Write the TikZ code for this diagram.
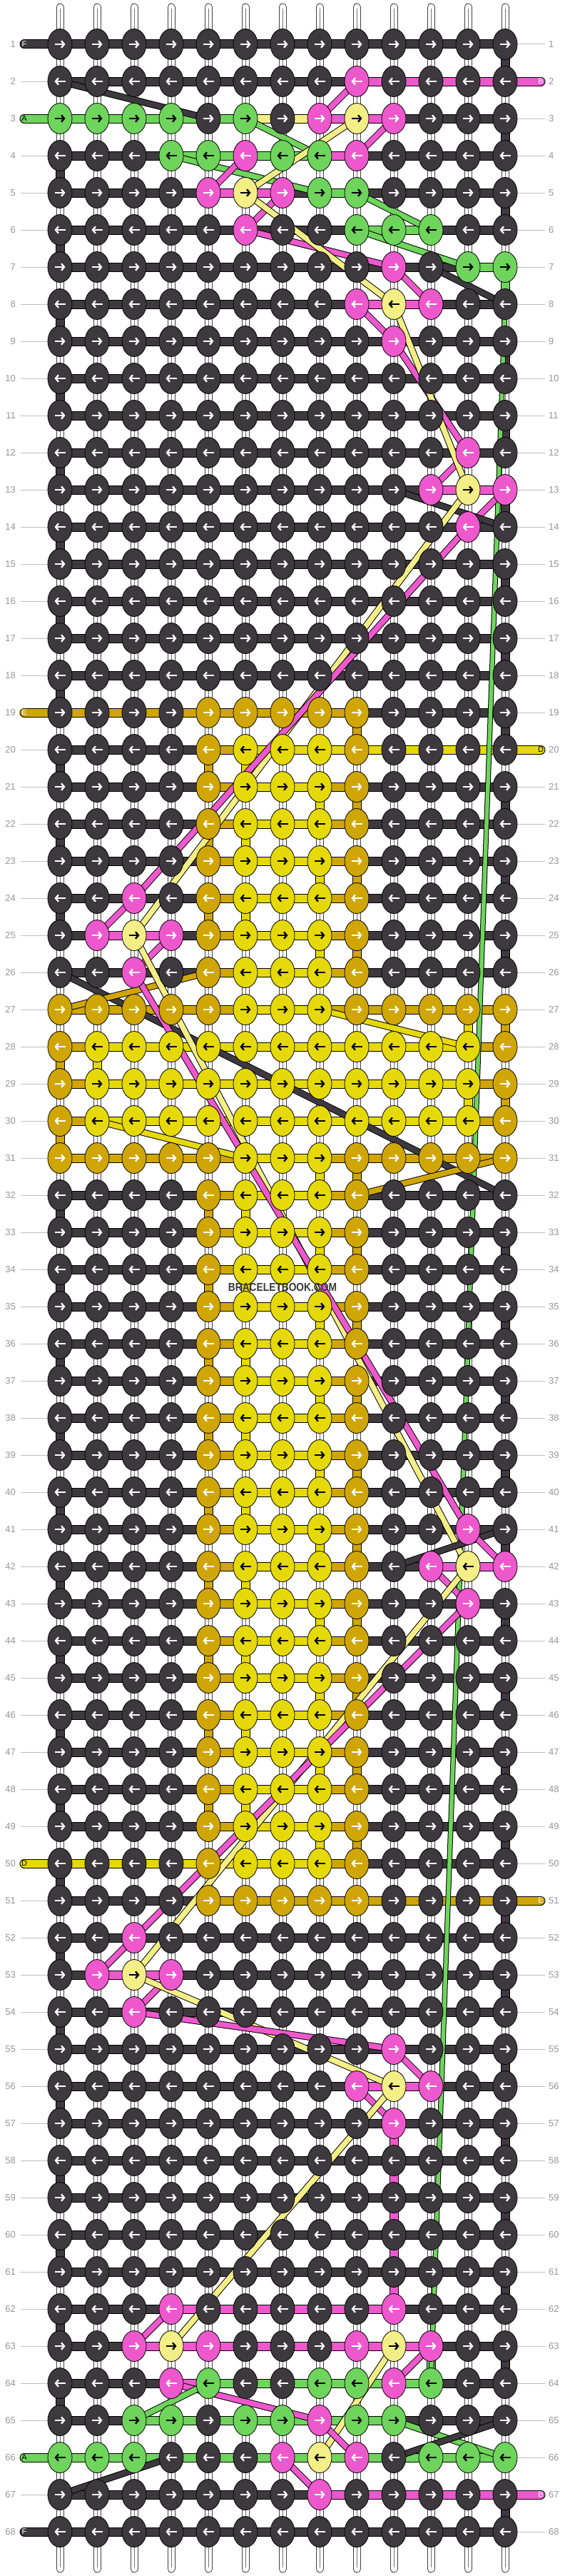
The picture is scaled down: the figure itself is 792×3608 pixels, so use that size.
\documentclass[tikz,border=0pt]{standalone}
\usepackage{fontspec}
\setmainfont{Liberation Sans}
\usetikzlibrary{shapes.geometric,arrows.meta}

\definecolor{cK}{RGB}{62,57,62}
\definecolor{cG}{RGB}{110,212,92}
\definecolor{cP}{RGB}{238,88,205}
\definecolor{cY}{RGB}{244,238,134}
\definecolor{cL}{RGB}{230,217,10}
\definecolor{cO}{RGB}{207,166,6}
\colorlet{aK}{white}\colorlet{aG}{black}\colorlet{aP}{white}
\colorlet{aY}{black}\colorlet{aL}{black}\colorlet{aO}{white}
\definecolor{labelgray}{RGB}{150,150,150}
\definecolor{guidegray}{RGB}{190,190,190}

\tikzset{
  knot/.style={ellipse, draw=black, line width=0.8pt, minimum width=34pt, minimum height=43pt, inner sep=0pt},
  knotarrow/.style={line width=2.3pt, -{Straight Barb[length=4pt,width=9.5pt]}},
  strandedge/.style={line width=13pt, draw=black},
  strandfill/.style={line width=11pt},
  floatedge/.style={line width=9.5pt, draw=black},
  floatfill/.style={line width=7.5pt},
  endedge/.style={line width=13pt, draw=black, line cap=round},
  endfill/.style={line width=11pt, line cap=round},
  guide/.style={draw=guidegray, line width=1pt},
  rownum/.style={text=labelgray, font=\fontsize{13}{13}\selectfont, inner sep=0pt},
  endtag/.style={font=\fontsize{11}{11}\selectfont, inner sep=0pt},
  watermark/.style={font=\bfseries\fontsize{16}{16}\selectfont, text=black!78, inner sep=0pt}
}

% walk through a string of colour letters
\makeatletter
\newcommand\eachletter[2]{%
  \def\el@do{#1}\def\el@idx{0}\edef\el@str{#2}%
  \expandafter\el@next\el@str\@nil}
\def\el@next#1{%
  \ifx#1\@nil\expandafter\@gobble\else\expandafter\@firstofone\fi
  {\pgfmathtruncatemacro\el@idx{\el@idx+1}%
   \expandafter\el@do\expandafter{\el@idx}{#1}\el@next}}
\makeatother

% one knot of row \r
\newcommand\putknot[2]{%
  \node[knot, fill=c#2] (k\r-#1) at (p\r-#1) {};
  \ifodd\r\relax
    \draw[knotarrow, a#2] ([xshift=-7.5pt]p\r-#1) -- ([xshift=7.5pt]p\r-#1);
  \else
    \draw[knotarrow, a#2] ([xshift=7.5pt]p\r-#1) -- ([xshift=-7.5pt]p\r-#1);
  \fi}

% one bar of row \r
\newcommand\putbar[2]{%
  \pgfmathtruncatemacro\nextcol{#1+1}%
  \draw[strandedge] (p\r-#1) -- (p\r-\nextcol);
  \draw[strandfill, c#2] (p\r-#1) -- (p\r-\nextcol);}

% a turn down to the next row
\newcommand\turnlink[3]{%
  \pgfmathtruncatemacro\rowbelow{#1+1}%
  \draw[strandedge] (p#1-#2) -- (p\rowbelow-#2);
  \draw[strandfill, c#3] (p#1-#2) -- (p\rowbelow-#2);}

\def\allK{KKKKKKKKKKKKK}
\def\allKb{KKKKKKKKKKKK}
\def\blk{KKKKOLLLOKKKK}
\def\blkb{KKKKOLLOKKKK}

% row / knots / bars
\def\rowdata{%
1/\allK/\allKb,
2/KKKKKKKKPKKKK/KKKKKKKKPPPP,
3/GGGGKGKPYPKKK/GGGGGYYPPKKK,
4/KKKGGPGGPKKKK/KKKGGGGPKKKK,
5/KKKKPYPGGKKKK/KKKKPPKGKKKK,
6/KKKKKPKKGGGKK/KKKKKKKKGGKK,
7/KKKKKKKKKPKGG/KKKKKKKKKKKG,
8/KKKKKKKKPYPKK/KKKKKKKKPPKK,
9/KKKKKKKKKPKKK/\allKb,
10/\allK/\allKb,
11/\allK/\allKb,
12/KKKKKKKKKKKPK/\allKb,
13/KKKKKKKKKKPYP/KKKKKKKKKKPP,
14/KKKKKKKKKKKPK/\allKb,
15/\allK/\allKb,
16/\allK/\allKb,
17/\allK/\allKb,
18/\allK/\allKb,
19/KKKKOOOOOKKKK/OOOOOOOOKKKK,
20/\blk/KKKKOLLLLLLL,
21/\blk/\blkb,
22/\blk/\blkb,
23/\blk/\blkb,
24/KKPKOLLLOKKKK/\blkb,
25/KPYPOLLLOKKKK/KPPKOLLOKKKK,
26/KKPKOLLLOKKKK/\blkb,
27/OOOOOLLLOOOOO/OOOOOLLOOOOO,
28/OLLLLLLLLLLLO/OLLLLLLLLLLO,
29/OLLLLLLLLLLLO/OLLLLLLLLLLO,
30/OLLLLLLLLLLLO/OLLLLLLLLLLO,
31/OOOOOLLLOOOOO/OOOOOLLOOOOO,
32/\blk/\blkb,
33/\blk/\blkb,
34/\blk/\blkb,
35/\blk/\blkb,
36/\blk/\blkb,
37/\blk/\blkb,
38/\blk/\blkb,
39/\blk/\blkb,
40/\blk/\blkb,
41/KKKKOLLLOKKPK/\blkb,
42/KKKKOLLLOKPYP/KKKKOLLOKKPP,
43/KKKKOLLLOKKPK/\blkb,
44/\blk/\blkb,
45/\blk/\blkb,
46/\blk/\blkb,
47/\blk/\blkb,
48/\blk/\blkb,
49/\blk/\blkb,
50/\blk/LLLLLLLOKKKK,
51/KKKKOOOOOKKKK/KKKKOOOOOOOO,
52/KKPKKKKKKKKKK/\allKb,
53/KPYPKKKKKKKKK/KPPKKKKKKKKK,
54/KKPKKKKKKKKKK/\allKb,
55/KKKKKKKKKPKKK/\allKb,
56/KKKKKKKKPYPKK/KKKKKKKKPPKK,
57/KKKKKKKKKPKKK/\allKb,
58/\allK/\allKb,
59/\allK/\allKb,
60/\allK/\allKb,
61/\allK/\allKb,
62/KKKPKKKKKPKKK/KKKPPPPPPKKK,
63/KKPYPKKKPYPKK/KKPPPPPPPPKK,
64/KKKPGKKGGPGKK/KKKPGGGGGGKK,
65/KKGGKGGPGGKKK/KKGGGGGGGKKK,
66/GGGKKKPYPKGGG/GGGGGGGGGGGG,
67/KKKKKKKPKKKKK/KKKKKKKPPPPP,
68/\allK/\allKb}

\begin{document}
\begin{tikzpicture}[x=1pt, y=-1pt]
    % Page
    \fill[white] (0,0) rectangle (792,3608);
    \useasboundingbox (0,0) rectangle (792,3608);

    % Knot positions
    \foreach \r in {1,...,68}
      \foreach \c in {1,...,13}
        \coordinate (p\r-\c) at ({84+52*(\c-1)},{62+52*(\r-1)});

    % Base strings
    \foreach \c in {1,...,13} {
      \draw[line width=11pt, black!75, line cap=round] ([yshift=52pt]p1-\c) -- ([yshift=-52pt]p68-\c);
      \draw[line width=9pt, white, line cap=round] ([yshift=52pt]p1-\c) -- ([yshift=-52pt]p68-\c);
      \draw[line width=0.6pt, black!55] ([yshift=50pt]p1-\c) -- ([yshift=-50pt]p68-\c);
    }

    % Row numbers and guides
    \foreach \r in {1,...,68} {
      \node[rownum, anchor=east] (ln\r) at ([xshift=-62pt]p\r-1) {\r};
      \node[rownum, anchor=west] (rn\r) at ([xshift=61pt]p\r-13) {\r};
      \draw[guide] ([xshift=-55pt]p\r-1) -- ([xshift=-17pt]p\r-1);
      \draw[guide] ([xshift=17pt]p\r-13) -- ([xshift=56pt]p\r-13);
    }

    % Bars
    \foreach \r/\kn/\br in \rowdata {\eachletter\putbar{\br}}

    % Turns at the edges
    \foreach \r in {1,3,...,25} {\turnlink{\r}{13}{K}}
    \foreach \r in {33,35,...,63} {\turnlink{\r}{13}{K}}
    \turnlink{67}{13}{K}
    \foreach \r in {4,6,...,24} {\turnlink{\r}{1}{K}}
    \foreach \r in {32,34,...,64} {\turnlink{\r}{1}{K}}
    \foreach \r/\c/\s in {7/13/G, 27/13/O, 27/12/L, 29/13/O, 29/12/L,
        28/1/O, 28/2/L, 30/1/O, 19/9/O, 63/11/G} {\turnlink{\r}{\c}{\s}}

    % Turns inside the block
    \foreach \r in {20,22,24} {\turnlink{\r}{5}{O}\turnlink{\r}{6}{L}}
    \foreach \r in {32,34,...,48} {\turnlink{\r}{5}{O}\turnlink{\r}{6}{L}}
    \foreach \r in {21,23,25} {\turnlink{\r}{8}{L}\turnlink{\r}{9}{O}}
    \foreach \r in {31,33,...,49} {\turnlink{\r}{8}{L}\turnlink{\r}{9}{O}}
    \foreach \r in {57,...,61} {\turnlink{\r}{10}{P}}

    % Loose ends
    \foreach \r/\s in {1/K, 3/G, 19/O, 50/L, 66/G, 68/K} {
      \coordinate (in\r) at ([xshift=-50pt]p\r-1);
      \draw[endedge] (in\r) -- (p\r-1);
      \draw[endfill, c\s] (in\r) -- (p\r-1);
    }
    \foreach \r/\s in {2/P, 20/L, 51/O, 67/P} {
      \coordinate (out\r) at ([xshift=50pt]p\r-13);
      \draw[endedge] (out\r) -- (p\r-13);
      \draw[endfill, c\s] (out\r) -- (p\r-13);
    }

    % Long green thread
    \draw[line width=7.5pt, black] (p8-13) -- (p64-11);
    \draw[line width=5.5pt, cG] (p8-13) -- (p64-11);

    % Floating threads
    \foreach \s/\a/\b in {
        K/2-1/3-5, G/3-6/4-8, G/4-4/5-8, G/5-9/6-11, G/6-9/7-12,
        P/2-9/3-8, P/3-10/4-9, P/4-6/5-5, P/5-7/6-6, P/6-6/7-10,
        P/7-10/8-11, P/8-9/9-10, P/9-10/12-12, P/12-12/13-11, P/13-13/14-12,
        Y/3-9/5-6, Y/5-6/8-10, Y/8-10/13-12, K/7-11/8-13, K/13-10/14-13,
        Y/13-12/25-3, P/14-12/24-3, P/24-3/25-2, P/25-4/26-3,
        K/26-1/32-13, O/26-5/27-1, O/31-13/32-9, L/27-8/28-12, L/30-2/31-6,
        Y/25-3/42-12, P/26-3/41-12,
        K/41-13/42-10, P/41-12/42-13, P/42-11/43-12, Y/42-12/53-3, P/43-12/52-3,
        P/52-3/53-2, P/53-4/54-3, Y/53-3/56-10, P/54-3/55-10, P/55-10/56-11,
        P/56-9/57-10, Y/56-10/63-4, P/62-4/63-3, P/63-11/64-10, Y/63-10/66-8,
        P/64-4/65-8, G/64-5/65-3, P/65-8/66-9, P/66-7/67-8,
        G/65-10/66-13, K/65-13/66-10, K/66-4/67-1} {
      \draw[floatedge] (p\a) -- (p\b);
      \draw[floatfill, c\s] (p\a) -- (p\b);
    }

    % Knots
    \foreach \r/\kn/\br in \rowdata {\eachletter\putknot{\kn}}

    % Thread letters
    \foreach \r/\lbl/\lc in {1/F/white, 3/A/black, 19/E/white, 50/D/black, 66/A/black, 68/F/white}
      \node[endtag, text=\lc] (tagl\r) at (in\r) {\lbl};
    \foreach \r/\lbl/\lc in {2/B/white, 20/D/black, 51/E/white, 67/B/white}
      \node[endtag, text=\lc] (tagr\r) at (out\r) {\lbl};

    % Site mark
    \node[watermark] (site) at (396,1803) {\scalebox{0.86}[1]{BRACELETBOOK.COM}};
\end{tikzpicture}
\end{document}
